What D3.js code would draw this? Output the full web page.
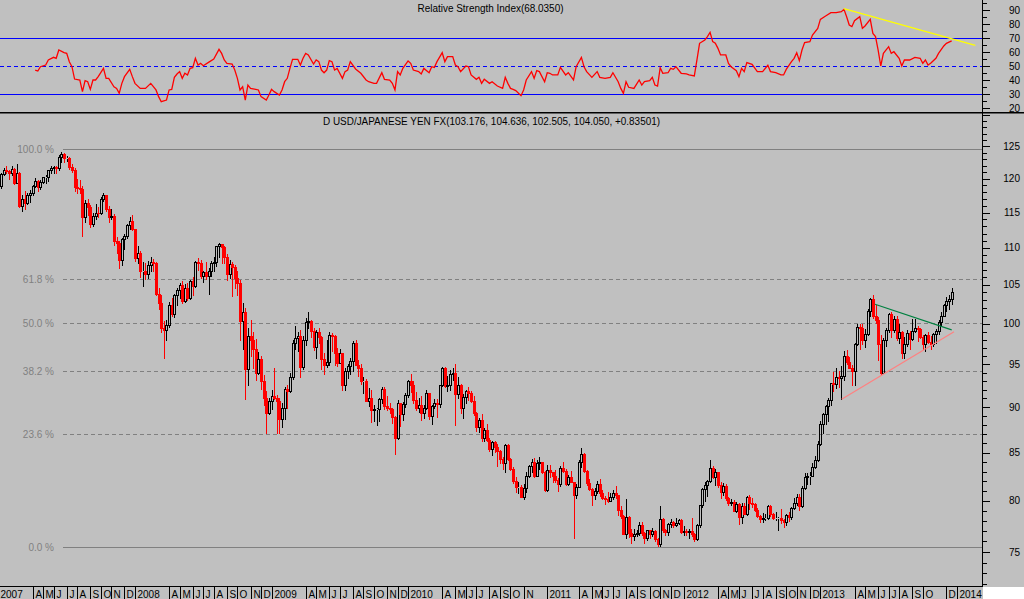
<!DOCTYPE html>
<html>
<head>
<meta charset="utf-8">
<script src="https://cdn.jsdelivr.net/npm/d3@7"></script>
<style>
html,body{margin:0;padding:0;background:#c0c0c0;overflow:hidden;}
svg{display:block;}
text{font-family:"Liberation Sans",Arial,sans-serif;}
</style>
</head>
<body>
<svg id="chart" width="1024" height="599"></svg>
<script>
// ---------------- DATA ----------------
// weekly bars (Friday dates); week index 0 = 2006-12-29, first bar = index 1 (2007-01-05)
const firstWeek = new Date(2006, 11, 29);
const axisEndDate = new Date(2014, 2, 15);
const firstBarIndex = 1;

const open = [
// 2007
119.0,118.9,120.7,121.4,121.1,120.9,121.5,119.4,120.9,116.0,117.0,116.4,117.6,117.8,118.9,119.6,118.7,119.5,120.2,120.2,121.3,121.7,121.8,121.6,123.4,123.8,123.2,123.2,121.8,121.4,118.8,118.6,118.5,114.3,116.4,115.8,113.3,114.5,115.0,114.9,117.0,117.5,115.5,114.3,114.5,110.9,110.7,108.3,111.2,111.7,113.2,113.8,
// 2008
112.6,108.6,109.3,106.8,106.9,106.5,107.6,108.1,107.9,103.8,102.6,99.5,99.2,99.8,102.3,101.2,103.6,104.3,105.0,102.9,104.6,103.3,105.5,104.8,108.1,107.9,106.2,106.7,106.1,106.9,107.9,108.0,110.2,110.5,110.1,108.8,106.4,107.8,107.4,105.9,105.3,100.3,101.5,94.4,98.5,98.0,96.9,94.0,95.6,93.0,91.0,89.4,
// 2009
90.7,91.3,91.0,90.7,88.7,89.9,92.1,91.9,93.5,97.6,98.2,98.4,94.7,97.9,100.2,100.3,99.1,97.1,99.0,98.3,95.6,94.9,95.3,98.6,98.5,96.3,95.2,96.3,92.6,94.2,94.8,95.4,97.6,94.9,94.5,93.0,93.0,90.7,91.1,89.7,89.8,89.8,90.9,92.1,90.1,89.9,89.8,88.9,86.6,90.5,89.2,90.4,
// 2010
91.4,93.0,92.6,90.8,89.9,90.3,89.3,89.9,91.6,89.0,90.1,90.5,90.4,92.5,94.6,92.4,92.6,93.9,94.0,91.5,92.5,89.9,91.2,91.9,91.6,90.7,89.3,87.8,88.6,86.6,87.4,86.4,85.4,86.1,85.6,85.2,84.3,83.9,85.8,84.3,83.3,82.0,81.4,81.4,80.4,81.3,82.5,83.6,84.0,82.5,83.9,84.0,82.9,
// 2011
81.1,83.2,82.9,82.5,82.1,81.7,83.4,83.1,81.7,82.4,81.9,80.6,81.4,84.0,84.9,83.1,81.8,81.2,80.6,81.0,81.7,80.8,80.3,80.2,80.0,80.4,80.8,80.6,79.1,78.5,76.7,78.4,76.8,76.5,76.7,76.8,77.6,76.8,76.3,77.1,76.7,77.0,76.2,75.8,78.2,77.1,76.9,77.7,77.9,77.6,77.8,78.1,
// 2012
76.9,77.0,76.9,77.0,76.7,76.2,77.6,79.6,81.2,81.6,82.0,83.4,82.4,82.9,81.6,80.9,81.5,80.3,79.8,79.9,79.0,79.7,78.4,79.5,78.7,80.4,79.8,79.7,79.1,78.5,78.2,78.3,78.3,79.5,78.7,78.3,78.3,78.3,78.1,77.9,78.6,78.4,79.3,79.8,80.4,79.5,81.3,82.4,82.5,82.5,83.5,84.2,
// 2013
85.9,88.1,89.2,90.1,90.8,92.8,92.7,93.5,93.4,93.6,96.0,95.3,94.5,94.2,97.5,99.6,99.5,98.0,98.7,101.6,103.2,101.0,100.5,97.5,94.0,97.9,99.2,101.2,99.2,100.6,98.2,98.9,96.3,97.5,98.8,98.1,99.1,99.4,99.3,98.3,97.4,98.6,97.7,97.4,98.7,99.1,100.2,101.0,102.4,102.9,103.176
];
const high = [
// 2007
119.5,120.9,121.7,122.0,121.4,121.9,121.7,122.2,121.0,117.5,118.2,117.9,118.3,119.0,120.1,119.8,119.8,120.3,120.6,121.4,121.9,122.0,122.0,123.6,124.1,123.9,123.5,123.4,122.3,121.6,119.9,119.8,118.9,116.8,117.0,116.1,115.0,116.3,115.8,117.3,117.9,117.6,115.9,115.5,114.8,111.5,111.0,111.4,111.9,113.3,114.4,114.7,
// 2008
112.7,110.2,109.5,108.1,107.9,108.2,108.7,108.5,108.0,104.6,103.6,100.3,100.5,102.7,103.3,103.8,104.6,105.3,105.5,105.1,105.3,105.6,106.0,108.2,108.6,108.3,106.9,108.0,107.3,108.2,108.7,110.3,110.7,110.6,110.2,109.2,108.3,108.0,107.6,106.8,105.6,102.6,102.0,99.5,100.5,98.9,98.1,96.5,96.0,93.7,91.8,91.0,
// 2009
92.0,94.6,91.4,91.0,90.5,92.3,92.5,94.0,98.0,99.7,99.0,99.2,98.5,100.7,101.4,100.5,99.4,99.2,99.5,98.5,96.4,97.9,98.9,98.8,98.6,97.0,96.9,96.4,94.6,95.0,95.7,97.8,97.9,95.5,95.0,93.5,93.3,92.2,92.0,90.2,89.9,91.0,92.3,92.3,91.3,90.5,89.9,89.0,90.8,90.5,90.6,91.6,
// 2010
93.1,93.8,93.0,91.7,91.1,91.3,90.3,92.0,91.6,90.3,90.9,90.9,92.6,94.7,94.7,93.6,94.3,94.5,95.0,93.5,92.7,91.5,92.0,92.3,91.9,91.3,89.5,88.8,89.2,87.7,88.1,86.6,86.3,86.2,85.9,85.3,84.5,85.9,85.9,84.4,83.5,82.4,81.9,81.6,81.7,82.9,83.7,84.3,84.4,84.2,84.5,84.0,83.1,
// 2011
83.7,83.7,83.0,83.2,82.3,83.6,84.0,83.3,82.6,83.1,81.9,81.7,84.2,85.5,85.0,83.2,82.2,81.3,81.3,82.0,82.2,81.1,80.5,80.9,80.8,81.1,81.5,80.6,79.5,78.6,80.2,78.5,77.2,77.2,77.1,77.9,77.9,76.9,77.1,77.1,77.3,77.1,76.3,79.5,78.3,77.2,77.8,78.2,78.0,78.3,78.2,78.2,
// 2012
77.5,77.2,77.2,78.3,76.8,77.7,79.6,81.3,81.9,82.1,84.2,83.6,83.3,83.0,81.9,81.8,81.7,80.4,80.2,80.1,79.9,79.8,79.8,79.8,80.5,80.6,80.3,79.8,79.3,78.6,78.8,78.7,79.6,79.6,78.8,78.9,78.4,79.2,78.2,78.7,78.9,79.4,80.3,80.7,80.7,81.5,82.8,82.8,82.9,83.9,84.6,86.2,
// 2013
88.4,89.3,90.2,91.0,92.8,94.1,94.5,94.2,94.8,96.6,96.7,95.9,94.9,97.6,99.9,99.9,99.9,99.3,101.9,103.3,103.7,102.4,100.8,98.6,98.2,99.4,101.3,101.5,101.0,100.9,99.9,99.1,98.3,99.2,99.1,100.6,100.6,99.7,99.4,98.6,98.7,99.0,98.4,98.8,99.3,100.4,101.4,102.5,103.4,103.6,104.636
];
const low = [
// 2007
118.5,118.6,120.5,120.9,120.0,120.6,119.2,119.3,115.8,115.2,115.5,116.2,116.6,117.5,118.7,118.2,118.4,119.3,119.3,119.7,120.9,120.8,120.8,121.4,122.6,122.6,122.7,121.5,121.0,118.2,117.9,117.8,111.6,113.6,114.6,112.9,113.0,114.0,114.3,114.8,116.7,115.2,113.6,114.0,110.4,109.3,107.2,107.6,109.9,111.3,112.6,112.5,
// 2008
108.2,107.9,106.0,104.9,105.7,105.9,106.8,106.9,103.6,101.9,98.9,95.7,97.9,99.6,100.9,100.8,102.3,103.3,102.6,102.7,103.0,103.2,103.6,104.7,107.0,105.9,105.4,105.8,103.8,106.2,106.9,107.5,108.8,107.9,107.9,105.6,105.9,103.5,104.6,103.6,97.9,96.9,90.9,92.5,96.0,94.6,93.1,93.8,92.1,90.2,87.1,89.2,
// 2009
89.8,90.9,87.1,87.1,87.8,88.7,89.9,91.7,93.3,96.8,96.6,93.5,94.4,97.3,99.4,98.3,96.7,95.8,97.6,94.4,93.9,94.7,94.9,96.6,94.9,94.8,95.2,92.0,92.0,93.4,93.9,94.2,94.9,93.6,92.7,91.6,90.7,90.1,88.3,88.5,88.0,88.5,90.5,89.8,89.7,89.4,88.2,84.8,86.5,87.9,88.6,90.0,
// 2010
91.2,91.7,90.5,89.7,89.5,88.6,88.8,89.8,88.7,88.1,89.9,88.9,90.0,92.4,92.3,91.9,92.0,93.1,88.0,91.1,89.3,88.8,90.5,90.8,90.6,89.1,87.3,87.2,86.3,86.3,86.2,85.2,84.7,85.1,83.6,83.9,83.3,82.9,84.2,83.2,81.8,80.9,80.8,80.4,80.2,80.9,82.4,82.9,82.4,82.5,83.3,82.8,81.0,
// 2011
81.0,82.4,81.9,81.9,81.0,81.5,83.0,81.6,81.6,81.9,76.3,80.3,81.4,83.5,83.0,81.6,81.1,79.6,80.2,80.8,80.5,80.2,79.7,79.9,80.0,80.2,80.3,78.6,78.3,76.7,76.3,76.4,75.9,76.1,76.5,76.6,76.6,75.9,76.1,76.3,76.5,76.0,75.6,75.6,76.9,76.6,76.6,77.4,77.4,77.5,77.7,76.8,
// 2012
76.6,76.6,76.3,76.5,76.0,76.1,77.4,79.4,80.0,80.5,81.9,82.3,81.6,81.4,80.3,80.6,80.1,79.6,79.6,79.0,78.9,77.7,77.8,78.7,78.6,79.2,79.4,79.0,78.4,77.9,77.9,78.1,78.2,78.5,78.2,78.1,77.1,77.8,77.4,77.6,78.0,78.2,79.2,79.6,79.1,79.4,81.2,81.7,81.7,82.5,83.4,84.1,
// 2013
85.8,87.1,88.1,88.5,90.3,91.8,92.2,92.3,90.9,93.1,95.0,94.5,92.6,92.6,97.3,96.8,97.5,97.1,98.6,101.0,100.7,100.1,95.5,93.8,94.0,97.2,99.0,98.3,98.9,98.0,97.6,95.8,95.8,97.2,96.8,98.0,98.9,97.8,98.2,96.9,96.6,97.6,96.9,97.2,97.6,98.7,99.8,100.9,101.6,101.8,102.505
];
const close = [
// 2007
118.9,120.7,121.4,121.1,120.9,121.5,119.4,120.9,116.0,117.0,116.4,117.6,117.8,118.9,119.6,118.7,119.5,120.2,120.2,121.3,121.7,121.8,121.6,123.4,123.8,123.2,123.2,121.8,121.4,118.8,118.6,118.5,114.3,116.4,115.8,113.3,114.5,115.0,114.9,117.0,117.5,115.5,114.3,114.5,110.9,110.7,108.3,111.2,111.7,113.2,113.8,112.6,
// 2008
108.6,109.3,106.8,106.9,106.5,107.6,108.1,107.9,103.8,102.6,99.5,99.2,99.8,102.3,101.2,103.6,104.3,105.0,102.9,104.6,103.3,105.5,104.8,108.1,107.9,106.2,106.7,106.1,106.9,107.9,108.0,110.2,110.5,110.1,108.8,106.4,107.8,107.4,105.9,105.3,100.3,101.5,94.4,98.5,98.0,96.9,94.0,95.6,93.0,91.0,89.4,90.7,
// 2009
91.3,91.0,90.7,88.7,89.9,92.1,91.9,93.5,97.6,98.2,98.4,94.7,97.9,100.2,100.3,99.1,97.1,99.0,98.3,95.6,94.9,95.3,98.6,98.5,96.3,95.2,96.3,92.6,94.2,94.8,95.4,97.6,94.9,94.5,93.0,93.0,90.7,91.1,89.7,89.8,89.8,90.9,92.1,90.1,89.9,89.8,88.9,86.6,90.5,89.2,90.4,91.4,
// 2010
93.0,92.6,90.8,89.9,90.3,89.3,89.9,91.6,89.0,90.1,90.5,90.4,92.5,94.6,92.4,92.6,93.9,94.0,91.5,92.5,89.9,91.2,91.9,91.6,90.7,89.3,87.8,88.6,86.6,87.4,86.4,85.4,86.1,85.6,85.2,84.3,83.9,85.8,84.3,83.3,82.0,81.4,81.4,80.4,81.3,82.5,83.6,84.0,82.5,83.9,84.0,82.9,81.1,
// 2011
83.2,82.9,82.5,82.1,81.7,83.4,83.1,81.7,82.4,81.9,80.6,81.4,84.0,84.9,83.1,81.8,81.2,80.6,81.0,81.7,80.8,80.3,80.2,80.0,80.4,80.8,80.6,79.1,78.5,76.7,78.4,76.8,76.5,76.7,76.8,77.6,76.8,76.3,77.1,76.7,77.0,76.2,75.8,78.2,77.1,76.9,77.7,77.9,77.6,77.8,78.1,76.9,
// 2012
77.0,76.9,77.0,76.7,76.2,77.6,79.6,81.2,81.6,82.0,83.4,82.4,82.9,81.6,80.9,81.5,80.3,79.8,79.9,79.0,79.7,78.4,79.5,78.7,80.4,79.8,79.7,79.1,78.5,78.2,78.3,78.3,79.5,78.7,78.3,78.3,78.3,78.1,77.9,78.6,78.4,79.3,79.8,80.4,79.5,81.3,82.4,82.5,82.5,83.5,84.2,85.9,
// 2013
88.1,89.2,90.1,90.8,92.8,92.7,93.5,93.4,93.6,96.0,95.3,94.5,94.2,97.5,99.6,99.5,98.0,98.7,101.6,103.2,101.0,100.5,97.5,94.0,97.9,99.2,101.2,99.2,100.6,98.2,98.9,96.3,97.5,98.8,98.1,99.1,99.4,99.3,98.3,97.4,98.6,97.7,97.4,98.7,99.1,100.2,101.0,102.4,102.9,103.2,104.05
];

// RSI(14) readings: week index / value
const rsiWeek = [15,16,17,19,20,22,23,24,26,27,28,29,30,32,33,34,35,36,37,38,39,41,42,43,45,46,47,48,49,51,52,53,55,57,59,61,62,63,65,66,67,68,69,70,71,72,73,74,75,76,77,78,79,81,83,85,86,87,88,90,91,92,93,94,95,96,97,99,100,101,103,104,105,106,108,109,110,111,112,113,115,116,117,118,119,121,122,123,124,125,126,127,128,129,130,132,133,134,135,137,139,141,142,144,145,147,148,150,151,152,153,154,155,157,158,159,161,162,163,165,166,167,168,170,171,172,174,175,176,177,179,180,181,183,184,185,186,188,189,191,193,194,195,196,197,198,200,201,202,204,205,206,207,209,210,211,212,214,215,217,218,220,221,223,224,225,227,229,230,232,234,235,237,238,239,240,241,243,245,246,247,249,250,251,252,253,254,256,257,258,259,261,263,264,266,267,268,270,271,272,273,274,275,276,278,279,280,282,283,284,285,286,288,290,292,294,295,297,299,300,301,303,304,305,306,307,308,310,311,313,314,316,318,320,322,323,324,325,326,327,329,330,331,333,334,335,336,337,338,340,341,342,344,345,346,348,350,352,353,354,355,356,358,359,361,362,364];
const rsiValue = [47.1,46.4,49.5,50.7,54.3,56.2,55.5,61.4,59.5,59,53,49.5,40.7,40,31.7,39.5,38.8,33.3,40,40,42.4,48.3,41.2,41.2,35.2,34,30.5,37.6,42.4,47.6,42.4,37.6,34,34,37.6,32.9,28.1,24.5,25.7,32.9,33.3,41.9,44.3,46,41.2,44.8,43.6,48.3,48.8,55.5,50.7,51.9,50.2,52.6,55,61.9,59,54.3,51.9,51.4,47.1,41.2,32.9,35.2,25.7,36.4,34,33.3,32.9,28.1,25.7,29.3,33.3,31.7,29.3,32.9,38.8,41.2,48.3,54.8,54.8,50.7,55.5,59,57.9,51.4,54.3,53.1,47.1,45.2,47.1,53.8,53.1,47.1,48.3,41.2,46,47.1,53.1,47.9,44.8,40,38.8,37.6,37.6,45.2,40.5,40,37.6,32.9,46,43.6,48.3,53.6,51.9,47.1,46,44.3,48.3,45.2,49.5,49,53.1,59.5,53.1,56.7,56.7,50.7,49.5,46,50,49.5,43.6,40.5,41.9,37.6,40.5,37.6,38.8,35.7,34,41.9,37.6,34,33.3,32.4,28.8,32.9,40,46,41.2,46.7,46,38.8,45.2,44.8,43.6,43.6,49,43.6,45.2,40,49.5,56.2,49.5,46,41.9,46,41.9,41.2,41.9,45.2,38.8,34,30.5,38.8,34.8,34,40,36.4,38.8,39.5,41.9,36.4,35.7,48.8,44.8,45.2,48.3,47.6,49.5,44.8,44.3,43.6,42.9,54.3,66.2,68.6,71,74,67.4,66.2,62.6,57.9,57.9,51.9,49.5,46.7,42.4,48.3,46,52.4,51.2,46,46,50.5,46,45.2,43.6,43.6,47.6,53.1,55.5,59.5,53.8,61.4,66.7,67.4,72.1,76.9,83.3,85.7,88.1,88.1,88.8,90.5,85.2,79.3,78.1,82.4,85.2,76.9,78.6,83.3,73.3,71,61.4,50,59,63.8,59,60.2,55.5,50,54.3,54.3,56.2,55.5,51.9,54.3,50.7,51.9,55.5,59,64.3,66.2,68.0];

// Fibonacci retracement
const fibHigh = 124.6, fibLow = 75.45;
const fibLevels = [1, 0.618, 0.5, 0.382, 0.236, 0];
const fibLabels = ["100.0 %", "61.8 %", "50.0 %", "38.2 %", "23.6 %", "0.0 %"];

// trendlines [weekIndex, value]
const greenLine = [[334.8, 102.45], [364.0, 99.2]];
const redLine = [[322.1, 90.9], [364.9, 98.97]];
const rsiYellowLine = [[322.9, 90.9], [373.0, 64.8]];

// axis ticks
const priceTickLabels = [75, 80, 85, 90, 95, 100, 105, 110, 115, 120, 125];
const priceMinorTicks = d3.range(72, 131, 1);
const rsiTickLabels = [20, 30, 40, 50, 60, 70, 80, 90];
const rsiMinorTicks = [20, 25, 30, 35, 40, 45, 50, 55, 60, 65, 70, 75, 80, 85, 90, 95];
const rsiLevels = [70, 50, 30];
const monthLetters = ["J","F","M","A","M","J","J","A","S","O","N","D"];
const hiddenMonthLabels = ["2010-12", "2013-11"];

const rsiTitle = "Relative Strength Index(68.0350)";
const mainTitle = "D USD/JAPANESE YEN FX(103.176, 104.636, 102.505, 104.050, +0.83501)";

// ---------------- LAYOUT ----------------
const AX = 982;           // right axis x
const RSI_BOTTOM = 112;   // separator
const MAIN_BOTTOM = 586;  // x axis line
const BG = "#c0c0c0";

const svg = d3.select("#chart");
svg.append("rect").attr("width", 1024).attr("height", 599).attr("fill", BG);

const weeks = d3.timeFriday.range(firstWeek, axisEndDate);
const x = d3.scaleLinear().domain([0, weeks.length - 1]).range([-4.2, -4.2 + (weeks.length - 1) * 2.626]);
const yP = d3.scaleLog().domain([75, 125]).range([552, 146.3]);
const yR = d3.scaleLinear().domain([20, 90]).range([108, 10]);

const defs = svg.append("defs");
defs.append("clipPath").attr("id", "clipMain").append("rect")
  .attr("x", 0).attr("y", RSI_BOTTOM + 1.5).attr("width", AX).attr("height", MAIN_BOTTOM - RSI_BOTTOM - 1.5);
defs.append("clipPath").attr("id", "clipRsi").append("rect")
  .attr("x", 0).attr("y", 0).attr("width", AX).attr("height", RSI_BOTTOM);

// ---------- RSI panel ----------
const gR = svg.append("g").attr("clip-path", "url(#clipRsi)");
gR.selectAll("line.lvl").data(rsiLevels).join("line")
  .attr("x1", 0).attr("x2", AX)
  .attr("y1", d => Math.round(yR(d)) + 0.5).attr("y2", d => Math.round(yR(d)) + 0.5)
  .attr("stroke", "#0000ff").attr("stroke-width", 1)
  .attr("stroke-dasharray", d => d === 50 ? "4,3" : null)
  .attr("shape-rendering", "crispEdges");

const rsiData = rsiWeek.map((w, k) => [w, rsiValue[k]]);
gR.append("path").datum(rsiData)
  .attr("d", d3.line().x(d => x(d[0])).y(d => yR(d[1])))
  .attr("fill", "none").attr("stroke", "#ff0000").attr("stroke-width", 1.3);

gR.append("line")
  .attr("x1", x(rsiYellowLine[0][0])).attr("y1", yR(rsiYellowLine[0][1]))
  .attr("x2", x(rsiYellowLine[1][0])).attr("y2", yR(rsiYellowLine[1][1]))
  .attr("stroke", "#ffff00").attr("stroke-width", 1.3);

svg.append("text").attr("x", 417.5).attr("y", 12).attr("font-size", 10)
  .attr("textLength", 146).attr("lengthAdjust", "spacingAndGlyphs")
  .attr("fill", "#000").text(rsiTitle);

// ---------- Main panel ----------
const gM = svg.append("g").attr("clip-path", "url(#clipMain)");

// fib lines
fibLevels.forEach((lv, k) => {
  const price = fibLow + lv * (fibHigh - fibLow);
  const yy = Math.round(yP(price)) + 0.5;
  gM.append("line").attr("x1", 63).attr("x2", AX).attr("y1", yy).attr("y2", yy)
    .attr("stroke", "#808080").attr("stroke-width", 1)
    .attr("stroke-dasharray", (lv === 1 || lv === 0) ? null : "4,3")
    .attr("shape-rendering", "crispEdges");
  gM.append("text").attr("x", 54).attr("y", yy).attr("dy", "0.35em")
    .attr("text-anchor", "end").attr("font-size", 10).attr("fill", "#808080")
    .text(fibLabels[k]);
});

// candles
const bars = close.map((c, k) => ({ i: k + firstBarIndex, o: open[k], h: high[k], l: low[k], c: c }));
const gC = gM.append("g").attr("shape-rendering", "crispEdges");
bars.forEach(b => {
  const cx = Math.round(x(b.i));
  const yH = Math.round(yP(b.h));
  const yL = Math.round(yP(b.l));
  const top = Math.round(yP(Math.max(b.o, b.c)));
  const bot = Math.round(yP(Math.min(b.o, b.c)));
  if (b.c >= b.o) {
    if (top > yH) gC.append("line").attr("x1", cx + 0.5).attr("x2", cx + 0.5).attr("y1", yH).attr("y2", top)
      .attr("stroke", "#000").attr("stroke-width", 1);
    if (yL > bot) gC.append("line").attr("x1", cx + 0.5).attr("x2", cx + 0.5).attr("y1", bot + 1).attr("y2", yL + 1)
      .attr("stroke", "#000").attr("stroke-width", 1);
    gC.append("rect").attr("x", cx - 0.5).attr("y", top + 0.5).attr("width", 2).attr("height", Math.max(0, bot - top))
      .attr("fill", "none").attr("stroke", "#000").attr("stroke-width", 1);
  } else {
    gC.append("line").attr("x1", cx + 0.5).attr("x2", cx + 0.5).attr("y1", yH).attr("y2", yL + 1)
      .attr("stroke", "#ff0000").attr("stroke-width", 1);
    gC.append("rect").attr("x", cx - 1).attr("y", top).attr("width", 3).attr("height", Math.max(1, bot - top + 1))
      .attr("fill", "#ff0000");
  }
});

// trendlines
gM.append("line")
  .attr("x1", x(greenLine[0][0])).attr("y1", yP(greenLine[0][1]))
  .attr("x2", x(greenLine[1][0])).attr("y2", yP(greenLine[1][1]))
  .attr("stroke", "#008040").attr("stroke-width", 1.2);
gM.append("line")
  .attr("x1", x(redLine[0][0])).attr("y1", yP(redLine[0][1]))
  .attr("x2", x(redLine[1][0])).attr("y2", yP(redLine[1][1]))
  .attr("stroke", "#ff8080").attr("stroke-width", 1.2);

svg.append("text").attr("x", 323).attr("y", 125).attr("font-size", 10)
  .attr("textLength", 337).attr("lengthAdjust", "spacingAndGlyphs")
  .attr("fill", "#000").text(mainTitle);

// ---------- separators & axes ----------
svg.append("rect").attr("x", 0).attr("y", RSI_BOTTOM).attr("width", 1024).attr("height", 1.5).attr("fill", "#000");
const gA = svg.append("g").attr("shape-rendering", "crispEdges");
gA.append("line").attr("x1", AX + 0.5).attr("x2", AX + 0.5).attr("y1", 0).attr("y2", MAIN_BOTTOM + 1)
  .attr("stroke", "#000");

// RSI axis
rsiMinorTicks.forEach(v => {
  const yy = Math.round(yR(v)) + 0.5;
  if (yy < 0 || yy > RSI_BOTTOM) return;
  gA.append("line").attr("x1", AX).attr("x2", AX + (v % 10 === 0 ? 8 : 5)).attr("y1", yy).attr("y2", yy).attr("stroke", "#000");
});
svg.selectAll("text.rl").data(rsiTickLabels).join("text").attr("class", "rl")
  .attr("x", 1020).attr("y", d => yR(d)).attr("dy", "0.36em").attr("text-anchor", "end")
  .attr("font-size", 10).attr("fill", "#000").text(d => d);

// price axis
priceMinorTicks.forEach(v => {
  const yy = Math.round(yP(v)) + 0.5;
  if (yy < RSI_BOTTOM + 2 || yy > MAIN_BOTTOM) return;
  gA.append("line").attr("x1", AX).attr("x2", AX + (v % 5 === 0 ? 8 : 5)).attr("y1", yy).attr("y2", yy).attr("stroke", "#000");
});
svg.selectAll("text.pl").data(priceTickLabels).join("text").attr("class", "pl")
  .attr("x", 1020).attr("y", d => yP(d)).attr("dy", "0.36em").attr("text-anchor", "end")
  .attr("font-size", 10).attr("fill", "#000").text(d => d);

// x axis
gA.append("line").attr("x1", 0).attr("x2", AX).attr("y1", MAIN_BOTTOM + 0.5).attr("y2", MAIN_BOTTOM + 0.5).attr("stroke", "#000");
svg.append("rect").attr("x", AX + 1).attr("y", MAIN_BOTTOM + 1).attr("width", 1024 - AX - 1).attr("height", 599 - MAIN_BOTTOM - 1).attr("fill", "#ffffff");

const monthTicks = [];
for (let i = 1; i < weeks.length; i++) {
  if (weeks[i].getMonth() !== weeks[i - 1].getMonth()) {
    const m = weeks[i].getMonth();
    const key = weeks[i].getFullYear() + "-" + String(m + 1).padStart(2, "0");
    monthTicks.push({ i: i, key: key, label: m === 0 ? String(weeks[i].getFullYear()) : monthLetters[m] });
  }
}
const meas = svg.append("text").attr("font-size", 10).attr("visibility", "hidden");
let yearEnd = -Infinity;
const gX = svg.append("g");
monthTicks.forEach(t => {
  const px = Math.round(x(t.i));
  if (hiddenMonthLabels.includes(t.key)) return;
  const isYear = t.label.length > 1;
  if (!isYear && px < yearEnd) return;
  if (isYear) {
    meas.text(t.label);
    yearEnd = px + 3 + meas.node().getComputedTextLength();
  }
  gX.append("line").attr("x1", px + 0.5).attr("x2", px + 0.5).attr("y1", MAIN_BOTTOM).attr("y2", 599)
    .attr("stroke", "#000").attr("shape-rendering", "crispEdges");
  if (px + 2 < AX) gX.append("text").attr("x", px + 2.5).attr("y", 598).attr("font-size", 10).attr("fill", "#000").text(t.label);
});
meas.remove();
</script>
</body>
</html>
